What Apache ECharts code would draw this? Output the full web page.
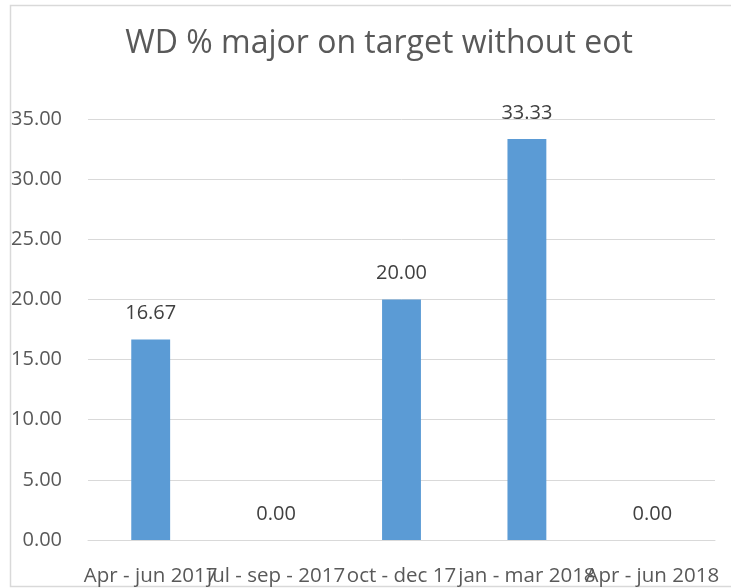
<!DOCTYPE html>
<html>
<head>
<meta charset="utf-8">
<script src="https://cdn.jsdelivr.net/npm/echarts@6/dist/echarts.min.js"></script>
<style>
  html, body { margin: 0; padding: 0; background: #fff; }
  #chart { width: 731px; height: 588px; }
</style>
</head>
<body>
<div id="chart"></div>
<script>
// quarters and their values
var categories = ['Apr - jun 2017', 'jul - sep - 2017', 'oct - dec 17', 'jan - mar 2018', 'Apr - jun 2018']
var values = [16.67, 0.00, 20.00, 33.33, 0.00]
var yTicks = [0, 5, 10, 15, 20, 25, 30, 35]

var FONT = '"Open Sans", sans-serif'
var chart = echarts.init(document.getElementById('chart'))

chart.setOption({
    backgroundColor: '#fff',
    animation: false,
    title: {
        text: 'WD % major on target without eot',
        left: 374,
        textAlign: 'center',
        top: 23,
        textStyle: { color: '#595959', fontSize: 32, fontWeight: 'normal', fontFamily: FONT }
    },
    graphic: [{
        type: 'rect',
        left: 8, top: 3,
        shape: { width: 760, height: 581 },
        style: { fill: 'none', stroke: '#d9d9d9', lineWidth: 1.5 },
        silent: true
    }],
    grid: { left: 88, right: 16, top: 119, bottom: 48 },
    xAxis: {
        type: 'category',
        data: categories,
        axisLine: { show: true, lineStyle: { color: '#d9d9d9' } },
        axisTick: { show: false },
        axisLabel: { interval: 0, color: '#595959', fontSize: 20.5, fontFamily: FONT, margin: 26 }
    },
    yAxis: {
        type: 'value',
        min: yTicks[0],
        max: yTicks[yTicks.length - 1],
        interval: 5,
        axisLine: { show: false },
        axisTick: { show: false },
        splitLine: { lineStyle: { color: '#d9d9d9', width: 1 } },
        axisLabel: {
            color: '#595959', fontSize: 20, fontFamily: FONT, margin: 26,
            formatter: function (v) { return v.toFixed(2) }
        }
    },
    series: [{
        type: 'bar',
        data: values,
        barWidth: '31%',
        itemStyle: { color: '#5b9bd5' },
        label: {
            show: true,
            position: 'top',
            distance: 16,
            color: '#404040',
            fontSize: 20,
            fontFamily: FONT,
            formatter: function (p) { return p.value.toFixed(2) }
        }
    }]
})
</script>
</body>
</html>
